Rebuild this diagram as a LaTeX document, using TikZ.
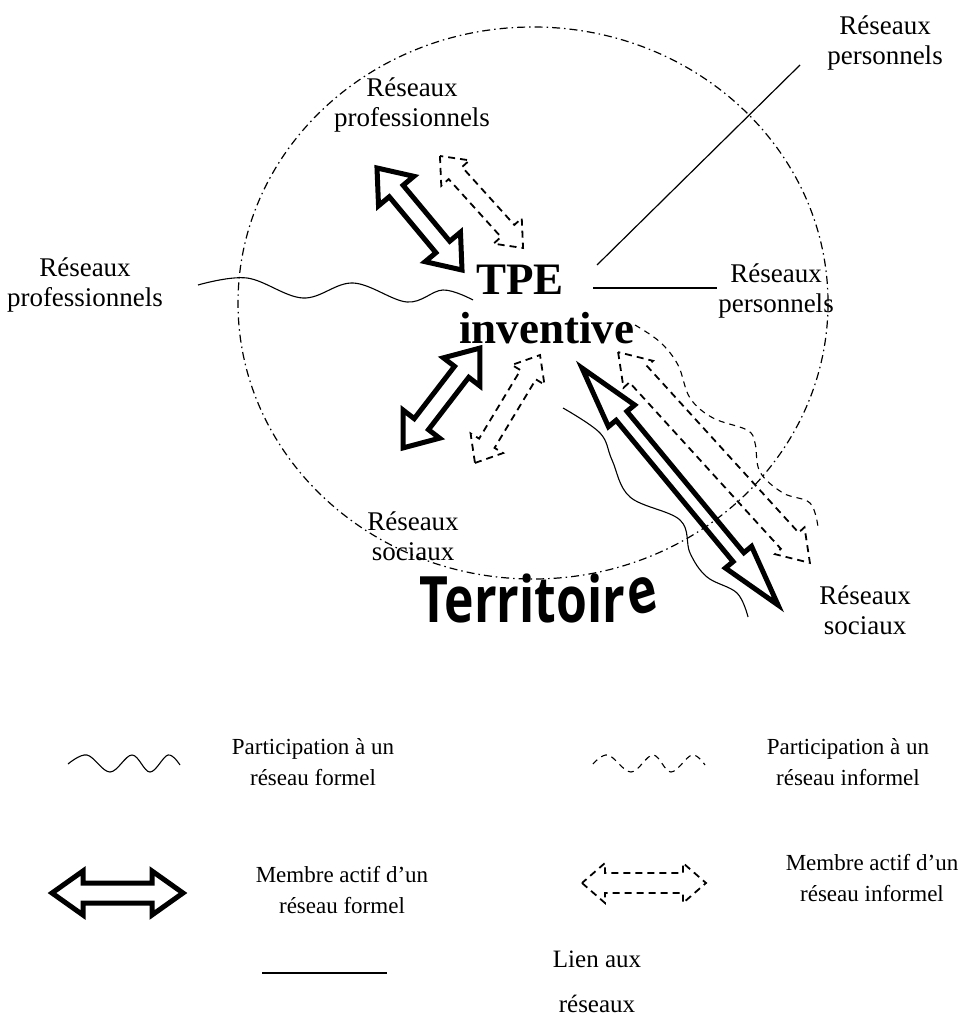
\documentclass[tikz,border=0pt]{standalone}
\usepackage{fontspec}
\setmainfont{Liberation Serif}
\newfontfamily\terrfont{Open Sans}
\usepackage{graphicx}
\tikzset{
  pics/dblarr/.style n args={4}{code={
    \draw[pic actions] (-#1/2,0) -- ({-#1/2+#2},#3) -- ({-#1/2+#2},#4) -- ({#1/2-#2},#4)
      -- ({#1/2-#2},#3) -- (#1/2,0) -- ({#1/2-#2},-#3) -- ({#1/2-#2},-#4)
      -- ({-#1/2+#2},-#4) -- ({-#1/2+#2},-#3) -- cycle;
  }},
  formalarr/.style={line width=5pt, line join=miter, miter limit=10},
  informalarr/.style={line width=1.8pt, dash pattern=on 7pt off 5pt},
  formalwave/.style={line width=1.1pt},
  informalwave/.style={line width=1.1pt, dash pattern=on 6pt off 5pt},
  lien/.style={line width=1.2pt},
  territ/.style={line width=1.2pt, dash pattern=on 8pt off 4pt on 1.5pt off 4pt},
  lab/.style={align=center, font=\fontsize{27}{30}\selectfont, inner sep=1pt},
  leg/.style={align=center, font=\fontsize{23}{31}\selectfont, inner sep=1pt},
  tpe/.style={font=\bfseries\fontsize{45}{50}\selectfont, inner sep=0pt},
}
\begin{document}
\begin{tikzpicture}[x=1pt,y=-1pt]
\useasboundingbox[fill=white] (0,0) rectangle (972,1032);

% territory boundary
\draw[territ] (533,303) ellipse [x radius=295, y radius=276];

% labels
\node[lab] (rprofin) at (412,105) {Réseaux\\professionnels};
\node[lab] (rprofout) at (85,285) {Réseaux\\professionnels};
\node[lab] (rpersout) at (885,43) {Réseaux\\personnels};
\node[lab] (rpersin) at (776,291) {Réseaux\\personnels};
\node[lab] (rsocin) at (413,536) {Réseaux\\sociaux};
\node[lab] (rsocout) at (865,610) {Réseaux\\sociaux};

\node[tpe, anchor=base west] (tpe) at (476,294) {TPE};
\node[tpe, anchor=base west] (inv) at (459,343) {inventive};

% Territoire
\node[font=\terrfont\bfseries\fontsize{64}{64}\selectfont, xscale=0.78, anchor=base, inner sep=0pt]
  (terr) at (540,622) {Territoir\raisebox{5pt}{\rotatebox{14}{e}}};

% links
\coordinate (l1a) at (593,288);
\coordinate (l1b) at (717,288);
\draw[lien] (l1a) -- (l1b);
\coordinate (l2a) at (597,265);
\coordinate (l2b) at (800,65);
\draw[lien] (l2a) -- (l2b);

% formal participation waves
\draw[formalwave] plot[smooth, tension=0.6] coordinates {(198,285) (247,278) (303,298) (353,283) (407,302) (443,290) (473,300)};
\draw[formalwave] plot[smooth, tension=0.6] coordinates {(563,408) (600,433) (612,460) (630,497) (680,520) (690,553) (707,577) (737,593) (748,617)};
% informal participation wave
\draw[informalwave] plot[smooth, tension=0.6] coordinates {(635,325) (660,342) (678,365) (690,398) (713,418) (747,430) (755,443) (760,472) (783,493) (810,503) (818,527)};

% formal active member arrows
\pic[formalarr, rotate=-50.2] (arrA) at (419.5,219) {dblarr={132.8}{30}{23}{9}};
\pic[formalarr, rotate=52.4] (arrB) at (441.5,398) {dblarr={126}{30}{23}{9}};
\pic[formalarr, rotate=-50.4] (arrC) at (680,486.5) {dblarr={307.5}{62}{17}{7}};

% informal active member arrows
\pic[informalarr, rotate=-47.9] (arrD) at (481.5,202) {dblarr={124}{23}{19}{9}};
\pic[informalarr, rotate=58.9] (arrE) at (507.5,409) {dblarr={126}{23}{19}{9}};
\pic[informalarr, rotate=-47.7] (arrF) at (714,457.5) {dblarr={285}{30}{20}{12}};

% legend
\draw[formalwave] plot[smooth, tension=0.6] coordinates {(68,764) (87,755) (110,772) (132,755) (150,772) (168,755) (180,765)};
\node[leg] (legfw) at (313,762) {Participation à un\\réseau formel};
\draw[informalwave] plot[smooth, tension=0.6] coordinates {(593,764) (608,755) (631,772) (653,755) (671,772) (692,755) (705,765)};
\node[leg] (legiw) at (848,762) {Participation à un\\réseau informel};

\pic[formalarr] (legfa) at (117.5,893) {dblarr={131}{31}{22}{10}};
\node[leg] (legfat) at (342,890) {Membre actif d’un\\réseau formel};
\pic[informalarr] (legia) at (644,883) {dblarr={124}{23}{20}{10}};
\node[leg] (legiat) at (872,878) {Membre actif d’un\\réseau informel};

\coordinate (leglA) at (262,973);
\coordinate (leglB) at (387,973);
\draw[lien] (leglA) -- (leglB);
\node[align=center, font=\fontsize{25}{45}\selectfont, inner sep=1pt] (leglt) at (597,982) {Lien aux\\réseaux};
\end{tikzpicture}
\end{document}
